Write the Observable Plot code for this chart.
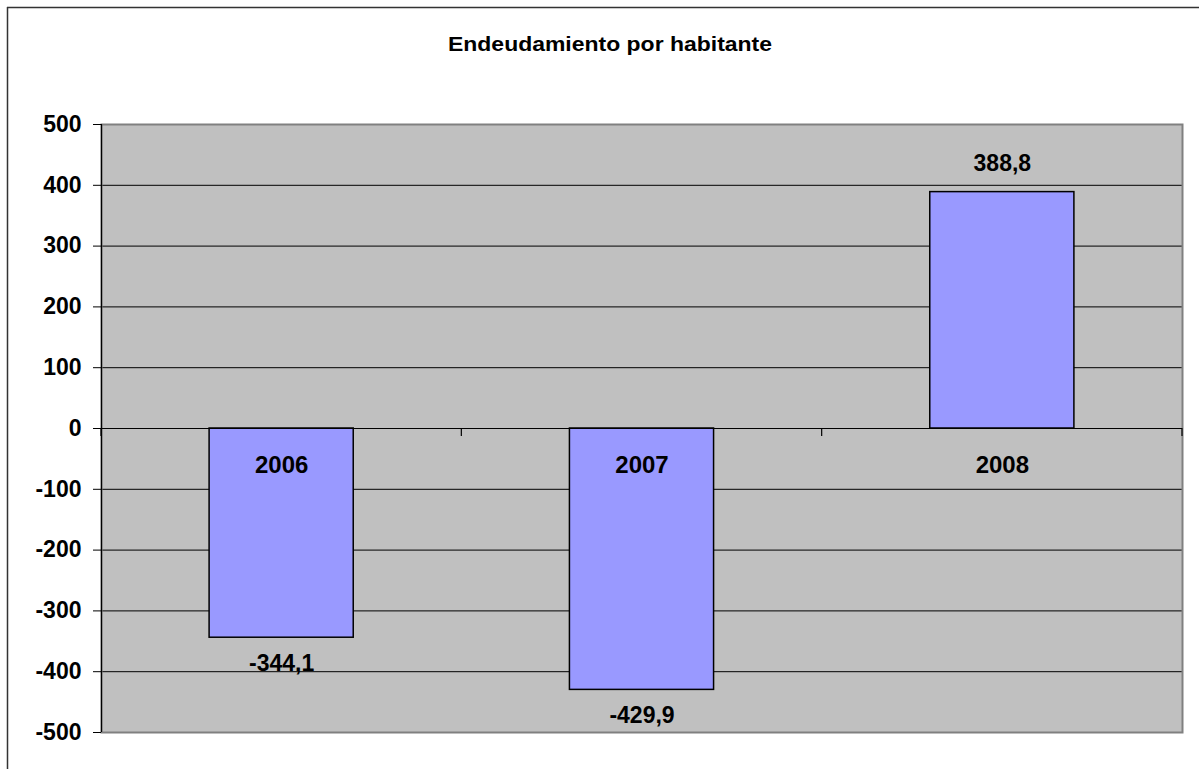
<!DOCTYPE html>
<html>
<head>
<meta charset="utf-8">
<script src="https://cdn.jsdelivr.net/npm/d3@7"></script>
<script src="https://cdn.jsdelivr.net/npm/@observablehq/plot@0.6"></script>
<style>
  html, body { margin: 0; padding: 0; background: #fff; }
  #chart { position: relative; width: 1199px; height: 769px; }
</style>
</head>
<body>
<div id="chart"></div>
<script>
const title = "Endeudamiento por habitante";
const years = ["2006", "2007", "2008"];
const values = [-344.1, -429.9, 388.8];
const yTicks = [-500, -400, -300, -200, -100, 0, 100, 200, 300, 400, 500];

const rows = years.map((year, i) => ({ year, value: values[i], i }));
const boundaries = d3.range(years.length + 1);
const fmt = v => v.toFixed(1).replace(".", ",");
const FONT = "Arial, 'Liberation Sans', sans-serif";

const W = 1199, H = 769;

const plot = Plot.plot({
  width: W,
  height: H,
  marginLeft: 101,
  marginTop: 124,
  marginRight: 17,
  marginBottom: 37,
  style: { fontFamily: FONT, background: "transparent", overflow: "visible" },
  x: { domain: [0, years.length], axis: null },
  y: { domain: [-500, 500], axis: null },
  marks: [
    Plot.frame({ fill: "#C0C0C0", stroke: null }),
    Plot.ruleY(yTicks, { stroke: "#000", strokeWidth: 1 }),
    Plot.frame({ stroke: "#808080", strokeWidth: 2 }),
    Plot.ruleX([0], { stroke: "#000", strokeWidth: 1.2 }),
    Plot.rectY(rows, {
      x1: d => d.i + 0.3,
      x2: d => d.i + 0.7,
      y1: 0,
      y2: d => d.value,
      fill: "#9999FF",
      stroke: "#000",
      strokeWidth: 1.5
    }),
    Plot.ruleY([0], { stroke: "#000", strokeWidth: 1.2 }),
    // category-axis tick marks at band boundaries, hanging below the zero line
    (index, scales) => {
      const g = d3.create("svg:g").attr("stroke", "#000").attr("stroke-width", 1.2);
      for (const b of boundaries) {
        g.append("line")
          .attr("x1", scales.x(b)).attr("x2", scales.x(b))
          .attr("y1", scales.y(0)).attr("y2", scales.y(0) + 8);
      }
      return g.node();
    },
    Plot.axisY({
      ticks: yTicks,
      tickSize: 8,
      tickPadding: 12,
      tickFormat: d => String(d),
      fontSize: 23,
      fontWeight: "bold",
      fill: "#000",
      stroke: "#000",
      label: null
    }),
    Plot.text(rows.filter(d => d.value >= 0), {
      x: d => d.i + 0.5, y: "value", text: d => fmt(d.value),
      dy: -28, fontSize: 23, fontWeight: "bold", fill: "#000"
    }),
    Plot.text(rows.filter(d => d.value < 0), {
      x: d => d.i + 0.5, y: "value", text: d => fmt(d.value),
      dy: 26, fontSize: 23, fontWeight: "bold", fill: "#000"
    }),
    Plot.text(rows, {
      x: d => d.i + 0.5, y: 0, text: "year",
      dy: 37, fontSize: 24, fontWeight: "bold", fill: "#000"
    })
  ]
});

const svg = d3.select(plot);
// outer chart border (only top and left edges are visible in the picture)
svg.append("line").attr("x1", 7).attr("x2", W).attr("y1", 7.5).attr("y2", 7.5)
  .attr("stroke", "#333").attr("stroke-width", 1.5);
svg.append("line").attr("x1", 7.5).attr("x2", 7.5).attr("y1", 7).attr("y2", H)
  .attr("stroke", "#333").attr("stroke-width", 1.5);
// title
svg.append("text")
  .attr("x", 610).attr("y", 51)
  .attr("text-anchor", "middle")
  .attr("font-family", FONT)
  .attr("font-weight", "bold")
  .attr("font-size", 20)
  .attr("textLength", 324)
  .attr("lengthAdjust", "spacingAndGlyphs")
  .attr("fill", "#000")
  .text(title);

document.getElementById("chart").appendChild(plot);
</script>
</body>
</html>
